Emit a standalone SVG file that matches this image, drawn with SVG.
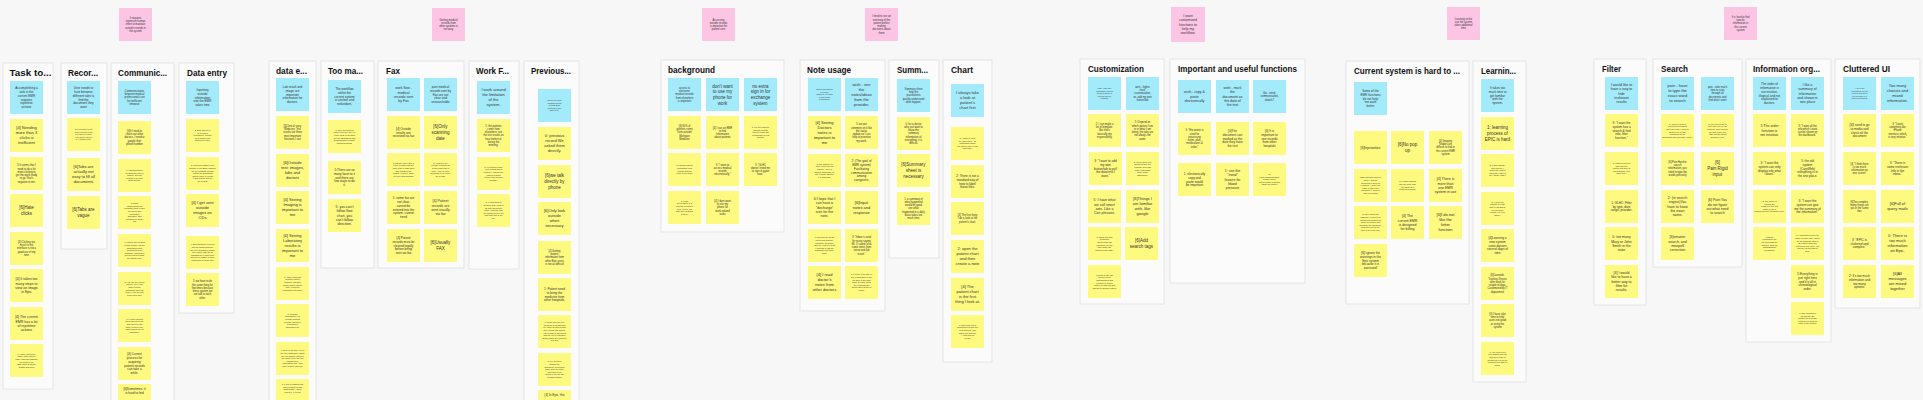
<svg xmlns="http://www.w3.org/2000/svg" width="1923" height="400" viewBox="0 0 1923 400">
<style>
.bg{fill:#f7f7f7}
.fr{fill:#fbfbfb;stroke:#e4e4e4;stroke-width:1}
.ti{font-family:"Liberation Sans",Arial,sans-serif;font-weight:bold;font-size:9.5px;fill:#111}
.y{fill:#fef97f}
.b{fill:#a3ebfa}
.p{fill:#fdc5e4}
.n{font-family:"Liberation Sans",Arial,sans-serif;fill:#333;text-anchor:middle}
.a{font-size:2.1px}.c{font-size:2.6px}.d{font-size:3.1px}.e{font-size:3.5px}.f{font-size:4px}.g{font-size:4.5px}
</style>
<rect class="bg" x="0" y="0" width="1923" height="400"/>

<g id="pink-notes">
<g id="p1"><rect class="p" x="119" y="8" width="33" height="33"/><text class="n c" x="135.5" y="24.5"><tspan dy="-2.15em">It requires</tspan><tspan x="135.5" dy="1.25em">extensive human</tspan><tspan x="135.5" dy="1.25em">effort to maintain</tspan><tspan x="135.5" dy="1.25em">outside records in</tspan><tspan x="135.5" dy="1.25em">the system</tspan></text></g>
<g id="p2"><rect class="p" x="432" y="8" width="33" height="33"/><text class="n c" x="448.5" y="24.5"><tspan dy="-1.525em">Getting medical</tspan><tspan x="448.5" dy="1.25em">records from</tspan><tspan x="448.5" dy="1.25em">other systems is</tspan><tspan x="448.5" dy="1.25em">not easy</tspan></text></g>
<g id="p3"><rect class="p" x="702" y="8" width="33" height="33"/><text class="n c" x="718.5" y="24.5"><tspan dy="-1.525em">Accessing</tspan><tspan x="718.5" dy="1.25em">outside records</tspan><tspan x="718.5" dy="1.25em">is important for</tspan><tspan x="718.5" dy="1.25em">patient care</tspan></text></g>
<g id="p4"><rect class="p" x="865" y="8" width="33" height="33"/><text class="n c" x="881.5" y="24.5"><tspan dy="-2.775em">I need to see an</tspan><tspan x="881.5" dy="1.25em">overview of the</tspan><tspan x="881.5" dy="1.25em">patient before</tspan><tspan x="881.5" dy="1.25em">making</tspan><tspan x="881.5" dy="1.25em">decisions about</tspan><tspan x="881.5" dy="1.25em">them</tspan></text></g>
<g id="p5"><rect class="p" x="1171" y="7" width="34" height="35"/><text class="n e" x="1188" y="24.5"><tspan dy="-2.15em">I want</tspan><tspan x="1188" dy="1.25em">customized</tspan><tspan x="1188" dy="1.25em">functions to</tspan><tspan x="1188" dy="1.25em">help my</tspan><tspan x="1188" dy="1.25em">workflow.</tspan></text></g>
<g id="p6"><rect class="p" x="1447" y="7" width="33" height="33"/><text class="n c" x="1463.5" y="23.5"><tspan dy="-1.525em">Learning to the</tspan><tspan x="1463.5" dy="1.25em">use the system</tspan><tspan x="1463.5" dy="1.25em">takes additional</tspan><tspan x="1463.5" dy="1.25em">time</tspan></text></g>
<g id="p7"><rect class="p" x="1724" y="7" width="33" height="33"/><text class="n c" x="1740.5" y="23.5"><tspan dy="-2.15em">It is hard to find</tspan><tspan x="1740.5" dy="1.25em">specific</tspan><tspan x="1740.5" dy="1.25em">information in</tspan><tspan x="1740.5" dy="1.25em">the current</tspan><tspan x="1740.5" dy="1.25em">system</tspan></text></g>
</g>

<g id="frames">
<rect class="fr" x="3" y="63" width="50" height="326"/><text class="ti" x="9.5" y="76" textLength="42" lengthAdjust="spacingAndGlyphs">Task to...</text>
<rect class="fr" x="61" y="63" width="46" height="186"/><text class="ti" x="68" y="76" textLength="30" lengthAdjust="spacingAndGlyphs">Recor...</text>
<rect class="fr" x="111" y="63" width="63" height="345"/><text class="ti" x="118" y="76" textLength="49" lengthAdjust="spacingAndGlyphs">Communic...</text>
<rect class="fr" x="179" y="63" width="55" height="250"/><text class="ti" x="187" y="76" textLength="40" lengthAdjust="spacingAndGlyphs">Data entry</text>
<rect class="fr" x="269" y="61" width="47" height="345"/><text class="ti" x="276" y="74" textLength="31" lengthAdjust="spacingAndGlyphs">data e...</text>
<rect class="fr" x="321" y="61" width="53" height="207"/><text class="ti" x="328" y="74" textLength="35" lengthAdjust="spacingAndGlyphs">Too ma...</text>
<rect class="fr" x="378" y="61" width="86" height="207"/><text class="ti" x="386" y="74" textLength="14" lengthAdjust="spacingAndGlyphs">Fax</text>
<rect class="fr" x="469" y="61" width="50" height="208"/><text class="ti" x="476" y="74" textLength="33" lengthAdjust="spacingAndGlyphs">Work F...</text>
<rect class="fr" x="524" y="61" width="55" height="345"/><text class="ti" x="531" y="74" textLength="40" lengthAdjust="spacingAndGlyphs">Previous...</text>
<rect class="fr" x="661" y="60" width="123" height="172"/><text class="ti" x="668" y="73" textLength="47" lengthAdjust="spacingAndGlyphs">background</text>
<rect class="fr" x="800" y="60" width="85" height="251"/><text class="ti" x="807" y="73" textLength="44" lengthAdjust="spacingAndGlyphs">Note usage</text>
<rect class="fr" x="889" y="60" width="50" height="198"/><text class="ti" x="897" y="73" textLength="31" lengthAdjust="spacingAndGlyphs">Summ...</text>
<rect class="fr" x="943" y="60" width="49" height="302"/><text class="ti" x="951" y="73" textLength="22" lengthAdjust="spacingAndGlyphs">Chart</text>
<rect class="fr" x="1080" y="59" width="84" height="245"/><text class="ti" x="1088" y="72" textLength="56" lengthAdjust="spacingAndGlyphs">Customization</text>
<rect class="fr" x="1170" y="59" width="135" height="224"/><text class="ti" x="1178" y="72" textLength="119" lengthAdjust="spacingAndGlyphs">Important and useful functions</text>
<rect class="fr" x="1346" y="61" width="123" height="243"/><text class="ti" x="1354" y="74" textLength="106" lengthAdjust="spacingAndGlyphs">Current system is hard to ...</text>
<rect class="fr" x="1473" y="61" width="53" height="321"/><text class="ti" x="1481" y="74" textLength="35" lengthAdjust="spacingAndGlyphs">Learnin...</text>
<rect class="fr" x="1594" y="59" width="52" height="246"/><text class="ti" x="1602" y="72" textLength="19" lengthAdjust="spacingAndGlyphs">Filter</text>
<rect class="fr" x="1653" y="59" width="89" height="208"/><text class="ti" x="1661" y="72" textLength="27" lengthAdjust="spacingAndGlyphs">Search</text>
<rect class="fr" x="1746" y="59" width="85" height="283"/><text class="ti" x="1753" y="72" textLength="67" lengthAdjust="spacingAndGlyphs">Information org...</text>
<rect class="fr" x="1835" y="59" width="85" height="249"/><text class="ti" x="1843" y="72" textLength="47" lengthAdjust="spacingAndGlyphs">Cluttered UI</text>
</g>

<g id="task">
<g id="task-b"><rect class="b" x="10" y="81" width="33" height="33"/><text class="n d" x="26.5" y="97.5"><tspan dy="-2.775em">Accomplishing a</tspan><tspan x="26.5" dy="1.25em">task in the</tspan><tspan x="26.5" dy="1.25em">current EMR</tspan><tspan x="26.5" dy="1.25em">requires</tspan><tspan x="26.5" dy="1.25em">repetitive</tspan><tspan x="26.5" dy="1.25em">actions</tspan></text></g>
<g id="task-1"><rect class="y" x="10" y="119" width="33" height="33"/><text class="n f" x="26.5" y="135.5"><tspan dy="-1.525em">[4] Needing</tspan><tspan x="26.5" dy="1.25em">more than 3</tspan><tspan x="26.5" dy="1.25em">clicks is</tspan><tspan x="26.5" dy="1.25em">inefficient</tspan></text></g>
<g id="task-2"><rect class="y" x="10" y="157" width="33" height="33"/><text class="n c" x="26.5" y="173.5"><tspan dy="-2.775em">5:It seems that I</tspan><tspan x="26.5" dy="1.25em">need to do a lot</tspan><tspan x="26.5" dy="1.25em">more clicking to</tspan><tspan x="26.5" dy="1.25em">get the work ready</tspan><tspan x="26.5" dy="1.25em">to go That's</tspan><tspan x="26.5" dy="1.25em">negative to me.</tspan></text></g>
<g id="task-3"><rect class="y" x="10" y="194" width="33" height="33"/><text class="n g" x="26.5" y="210.5"><tspan dy="-0.275em">[6]Hate</tspan><tspan x="26.5" dy="1.25em">clicks</tspan></text></g>
<g id="task-4"><rect class="y" x="10" y="232" width="33" height="33"/><text class="n c" x="26.5" y="248.5"><tspan dy="-2.15em">[4] Clicking too</tspan><tspan x="26.5" dy="1.25em">much in the</tspan><tspan x="26.5" dy="1.25em">interface is not a</tspan><tspan x="26.5" dy="1.25em">good use of my</tspan><tspan x="26.5" dy="1.25em">time</tspan></text></g>
<g id="task-5"><rect class="y" x="10" y="269" width="33" height="33"/><text class="n e" x="26.5" y="285.5"><tspan dy="-1.525em">[4] It takes too</tspan><tspan x="26.5" dy="1.25em">many steps to</tspan><tspan x="26.5" dy="1.25em">view an image</tspan><tspan x="26.5" dy="1.25em">in Epic</tspan></text></g>
<g id="task-6"><rect class="y" x="10" y="307" width="33" height="33"/><text class="n e" x="26.5" y="323.5"><tspan dy="-1.525em">[4] The current</tspan><tspan x="26.5" dy="1.25em">EMR has a lot</tspan><tspan x="26.5" dy="1.25em">of repetitive</tspan><tspan x="26.5" dy="1.25em">actions</tspan></text></g>
<g id="task-7"><rect class="y" x="10" y="344" width="33" height="33"/><text class="n a" x="26.5" y="360.5"><tspan dy="-2.775em">6: I scan, and scroll,</tspan><tspan x="26.5" dy="1.25em">panel, order patient</tspan><tspan x="26.5" dy="1.25em">page, and click manage</tspan><tspan x="26.5" dy="1.25em">the fields in the</tspan><tspan x="26.5" dy="1.25em">task, clicks &amp; history</tspan><tspan x="26.5" dy="1.25em">graphs and more</tspan></text></g>
</g>

<g id="recor">
<g id="recor-b"><rect class="b" x="67" y="81" width="33" height="33"/><text class="n d" x="83.5" y="97.5"><tspan dy="-2.775em">User needs to</tspan><tspan x="83.5" dy="1.25em">hunt between</tspan><tspan x="83.5" dy="1.25em">different tabs to</tspan><tspan x="83.5" dy="1.25em">find the</tspan><tspan x="83.5" dy="1.25em">document they</tspan><tspan x="83.5" dy="1.25em">want</tspan></text></g>
<g id="recor-1"><rect class="y" x="67" y="118" width="33" height="33"/><text class="n a" x="83.5" y="134.5"><tspan dy="-2.15em">5:If you want to put</tspan><tspan x="83.5" dy="1.25em">some function tests</tspan><tspan x="83.5" dy="1.25em">you have to figure</tspan><tspan x="83.5" dy="1.25em">it out where does it</tspan><tspan x="83.5" dy="1.25em">fit. It wastes time.</tspan></text></g>
<g id="recor-2"><rect class="y" x="67" y="158" width="33" height="33"/><text class="n f" x="83.5" y="174.5"><tspan dy="-1.525em">[6]Tabs are</tspan><tspan x="83.5" dy="1.25em">actually not</tspan><tspan x="83.5" dy="1.25em">easy to fill all</tspan><tspan x="83.5" dy="1.25em">documents</tspan></text></g>
<g id="recor-3"><rect class="y" x="67" y="196" width="33" height="33"/><text class="n g" x="83.5" y="212.5"><tspan dy="-0.275em">[6]Tabs are</tspan><tspan x="83.5" dy="1.25em">vague</tspan></text></g>
</g>

<g id="communic">
<g id="com-b"><rect class="b" x="118" y="81" width="33" height="33"/><text class="n c" x="134.5" y="97.5"><tspan dy="-2.15em">Communications</tspan><tspan x="134.5" dy="1.25em">between medical</tspan><tspan x="134.5" dy="1.25em">professionals can</tspan><tspan x="134.5" dy="1.25em">be inefficient</tspan><tspan x="134.5" dy="1.25em">timewise</tspan></text></g>
<g id="com-1"><rect class="y" x="118" y="121" width="33" height="33"/><text class="n c" x="134.5" y="137.5"><tspan dy="-2.15em">[5]If I need to</tspan><tspan x="134.5" dy="1.25em">reach out other</tspan><tspan x="134.5" dy="1.25em">doctors, I need to</tspan><tspan x="134.5" dy="1.25em">google their</tspan><tspan x="134.5" dy="1.25em">phone number</tspan></text></g>
<g id="com-2"><rect class="y" x="118" y="159" width="33" height="33"/><text class="n a" x="134.5" y="175.5"><tspan dy="-2.15em">1: communication</tspan><tspan x="134.5" dy="1.25em">between the staff is</tspan><tspan x="134.5" dy="1.25em">difficult, but has</tspan><tspan x="134.5" dy="1.25em">nothing to do with</tspan><tspan x="134.5" dy="1.25em">EMR system.</tspan></text></g>
<g id="com-3"><rect class="y" x="118" y="196" width="33" height="33"/><text class="n a" x="134.5" y="212.5"><tspan dy="-4.025em">5: Daily</tspan><tspan x="134.5" dy="1.25em">requirements the</tspan><tspan x="134.5" dy="1.25em">message come in and</tspan><tspan x="134.5" dy="1.25em">we act on that</tspan><tspan x="134.5" dy="1.25em">information</tspan><tspan x="134.5" dy="1.25em">document, and</tspan><tspan x="134.5" dy="1.25em">comment on what I</tspan><tspan x="134.5" dy="1.25em">did</tspan></text></g>
<g id="com-4"><rect class="y" x="118" y="234" width="33" height="33"/><text class="n a" x="134.5" y="250.5"><tspan dy="-3.4em">4: Having only medical</tspan><tspan x="134.5" dy="1.25em">record person, not the</tspan><tspan x="134.5" dy="1.25em">physician's office</tspan><tspan x="134.5" dy="1.25em">sometimes is not</tspan><tspan x="134.5" dy="1.25em">available, sometimes</tspan><tspan x="134.5" dy="1.25em">the preferred is using</tspan><tspan x="134.5" dy="1.25em">the natural form.</tspan></text></g>
<g id="com-5"><rect class="y" x="118" y="272" width="33" height="33"/><text class="n a" x="134.5" y="288.5"><tspan dy="-2.775em">5: I do like the letter's</tspan><tspan x="134.5" dy="1.25em">feature. So if I just</tspan><tspan x="134.5" dy="1.25em">want to send</tspan><tspan x="134.5" dy="1.25em">somebody their lab</tspan><tspan x="134.5" dy="1.25em">result, I can go right</tspan><tspan x="134.5" dy="1.25em">to the letter part.</tspan></text></g>
<g id="com-6"><rect class="y" x="118" y="309" width="33" height="33"/><text class="n a" x="134.5" y="325.5"><tspan dy="-2.775em">3: "If other doctors</tspan><tspan x="134.5" dy="1.25em">send patients to me,</tspan><tspan x="134.5" dy="1.25em">they don't tell me</tspan><tspan x="134.5" dy="1.25em">what I need to see,</tspan><tspan x="134.5" dy="1.25em">which makes me so</tspan><tspan x="134.5" dy="1.25em">confused."</tspan></text></g>
<g id="com-7"><rect class="y" x="118" y="347" width="33" height="33"/><text class="n d" x="134.5" y="363.5"><tspan dy="-2.775em">[4] Current</tspan><tspan x="134.5" dy="1.25em">process for</tspan><tspan x="134.5" dy="1.25em">acquiring</tspan><tspan x="134.5" dy="1.25em">patient records</tspan><tspan x="134.5" dy="1.25em">can take a</tspan><tspan x="134.5" dy="1.25em">while.</tspan></text></g>
<g id="com-8"><rect class="y" x="118" y="384" width="33" height="33"/><text class="n d" x="134.5" y="390"><tspan>[6]Sometimes, it</tspan><tspan x="134.5" dy="1.25em">is hard to find</tspan></text></g>
</g>

<g id="dataentry">
<g id="de-b"><rect class="b" x="186" y="81" width="33" height="33"/><text class="n d" x="202.5" y="97.5"><tspan dy="-2.15em">Inputting</tspan><tspan x="202.5" dy="1.25em">outside</tspan><tspan x="202.5" dy="1.25em">information</tspan><tspan x="202.5" dy="1.25em">into the EMR</tspan><tspan x="202.5" dy="1.25em">takes time</tspan></text></g>
<g id="de-1"><rect class="y" x="186" y="119" width="33" height="33"/><text class="n a" x="202.5" y="135.5"><tspan dy="-2.15em">2: Epic collects a</tspan><tspan x="202.5" dy="1.25em">lot of useful</tspan><tspan x="202.5" dy="1.25em">information, though</tspan><tspan x="202.5" dy="1.25em">all of which I am</tspan><tspan x="202.5" dy="1.25em">required to input.</tspan></text></g>
<g id="de-2"><rect class="y" x="186" y="157" width="33" height="33"/><text class="n a" x="202.5" y="173.5"><tspan dy="-3.4em">5: "Previous: Blank is not</tspan><tspan x="202.5" dy="1.25em">actually in our EMR, hospital</tspan><tspan x="202.5" dy="1.25em">we get scanned records</tspan><tspan x="202.5" dy="1.25em">- which are searchable</tspan><tspan x="202.5" dy="1.25em">and we have to reload</tspan><tspan x="202.5" dy="1.25em">it and find the info for</tspan><tspan x="202.5" dy="1.25em">the record"</tspan></text></g>
<g id="de-3"><rect class="y" x="186" y="194" width="33" height="33"/><text class="n f" x="202.5" y="210.5"><tspan dy="-1.525em">[4] I get sent</tspan><tspan x="202.5" dy="1.25em">outside</tspan><tspan x="202.5" dy="1.25em">images on</tspan><tspan x="202.5" dy="1.25em">CDs</tspan></text></g>
<g id="de-4"><rect class="y" x="186" y="236" width="33" height="33"/><text class="n a" x="202.5" y="252.5"><tspan dy="-3.4em">4: Everything we received</tspan><tspan x="202.5" dy="1.25em">into the charts and they</tspan><tspan x="202.5" dy="1.25em">are not necessarily viewed</tspan><tspan x="202.5" dy="1.25em">the results, labs are all</tspan><tspan x="202.5" dy="1.25em">handwritten or other stuff</tspan><tspan x="202.5" dy="1.25em">that one is usable to other</tspan><tspan x="202.5" dy="1.25em">institutions in future time</tspan></text></g>
<g id="de-5"><rect class="y" x="186" y="273" width="33" height="33"/><text class="n c" x="202.5" y="289.5"><tspan dy="-2.775em">5: we have to do</tspan><tspan x="202.5" dy="1.25em">the same thing for</tspan><tspan x="202.5" dy="1.25em">few times because</tspan><tspan x="202.5" dy="1.25em">these system are</tspan><tspan x="202.5" dy="1.25em">not talk to each</tspan><tspan x="202.5" dy="1.25em">other.</tspan></text></g>
</g>

<g id="datae">
<g id="dx-b"><rect class="b" x="276" y="78" width="33" height="33"/><text class="n d" x="292.5" y="94.5"><tspan dy="-2.15em">Lab result and</tspan><tspan x="292.5" dy="1.25em">image are</tspan><tspan x="292.5" dy="1.25em">important</tspan><tspan x="292.5" dy="1.25em">information for</tspan><tspan x="292.5" dy="1.25em">doctors.</tspan></text></g>
<g id="dx-1"><rect class="y" x="276" y="116" width="33" height="33"/><text class="n c" x="292.5" y="132.5"><tspan dy="-2.15em">[5]Clinical story,</tspan><tspan x="292.5" dy="1.25em">Medicine, Test</tspan><tspan x="292.5" dy="1.25em">results are three</tspan><tspan x="292.5" dy="1.25em">most important</tspan><tspan x="292.5" dy="1.25em">functions I use</tspan></text></g>
<g id="dx-2"><rect class="y" x="276" y="154" width="33" height="33"/><text class="n f" x="292.5" y="170.5"><tspan dy="-1.525em">[6]Outside</tspan><tspan x="292.5" dy="1.25em">test: images,</tspan><tspan x="292.5" dy="1.25em">labs and</tspan><tspan x="292.5" dy="1.25em">doctors</tspan></text></g>
<g id="dx-3"><rect class="y" x="276" y="191" width="33" height="33"/><text class="n f" x="292.5" y="207.5"><tspan dy="-1.525em">[4] Seeing</tspan><tspan x="292.5" dy="1.25em">Imaging is</tspan><tspan x="292.5" dy="1.25em">important to</tspan><tspan x="292.5" dy="1.25em">me</tspan></text></g>
<g id="dx-4"><rect class="y" x="276" y="229" width="33" height="33"/><text class="n f" x="292.5" y="245.5"><tspan dy="-2.15em">[4] Seeing</tspan><tspan x="292.5" dy="1.25em">Laboratory</tspan><tspan x="292.5" dy="1.25em">results is</tspan><tspan x="292.5" dy="1.25em">important to</tspan><tspan x="292.5" dy="1.25em">me</tspan></text></g>
<g id="dx-5"><rect class="y" x="276" y="267" width="33" height="33"/><text class="n a" x="292.5" y="283.5"><tspan dy="-2.775em">3: "Most important</tspan><tspan x="292.5" dy="1.25em">function: patient</tspan><tspan x="292.5" dy="1.25em">charging, lab data,</tspan><tspan x="292.5" dy="1.25em">image result, patient</tspan><tspan x="292.5" dy="1.25em">note, retrieving</tspan><tspan x="292.5" dy="1.25em">information internally"</tspan></text></g>
<g id="dx-6"><rect class="y" x="276" y="304" width="33" height="33"/><text class="n a" x="292.5" y="320.5"><tspan dy="-2.775em">5: (Primary</tspan><tspan x="292.5" dy="1.25em">information): It's</tspan><tspan x="292.5" dy="1.25em">primary medical</tspan><tspan x="292.5" dy="1.25em">records, lab result,</tspan><tspan x="292.5" dy="1.25em">prescription,</tspan><tspan x="292.5" dy="1.25em">medication list.</tspan></text></g>
<g id="dx-7"><rect class="y" x="276" y="342" width="33" height="33"/><text class="n a" x="292.5" y="358.5"><tspan dy="-3.4em">1: most of the time, to put</tspan><tspan x="292.5" dy="1.25em">the into catalogues, which</tspan><tspan x="292.5" dy="1.25em">are the images, and see</tspan><tspan x="292.5" dy="1.25em">the report, but if the test</tspan><tspan x="292.5" dy="1.25em">coming from</tspan><tspan x="292.5" dy="1.25em">somewhere else, they</tspan><tspan x="292.5" dy="1.25em">have a more carefully</tspan></text></g>
<g id="dx-8"><rect class="y" x="276" y="379" width="33" height="33"/><text class="n a" x="292.5" y="385"><tspan>1: If one is coming from</tspan><tspan x="292.5" dy="1.25em">other hospital in with</tspan><tspan x="292.5" dy="1.25em">good quality, I won't</tspan><tspan x="292.5" dy="1.25em">repeat it. If it's not</tspan></text></g>
</g>

<g id="tooma">
<g id="tm-b"><rect class="b" x="328" y="80" width="33" height="33"/><text class="n d" x="344.5" y="96.5"><tspan dy="-2.15em">The workflow</tspan><tspan x="344.5" dy="1.25em">within the</tspan><tspan x="344.5" dy="1.25em">current system</tspan><tspan x="344.5" dy="1.25em">is unclear and</tspan><tspan x="344.5" dy="1.25em">redundant.</tspan></text></g>
<g id="tm-1"><rect class="y" x="328" y="120" width="33" height="33"/><text class="n a" x="344.5" y="136.5"><tspan dy="-2.775em">3: there are different</tspan><tspan x="344.5" dy="1.25em">ways to do this, but it is</tspan><tspan x="344.5" dy="1.25em">never clear to me what</tspan><tspan x="344.5" dy="1.25em">are the advantages and</tspan><tspan x="344.5" dy="1.25em">disadvantages of those</tspan><tspan x="344.5" dy="1.25em">various methods.</tspan></text></g>
<g id="tm-2"><rect class="y" x="328" y="161" width="33" height="33"/><text class="n d" x="344.5" y="177.5"><tspan dy="-2.15em">5:There are so</tspan><tspan x="344.5" dy="1.25em">many facet to it</tspan><tspan x="344.5" dy="1.25em">and there are</tspan><tspan x="344.5" dy="1.25em">few ways to do</tspan><tspan x="344.5" dy="1.25em">it.</tspan></text></g>
<g id="tm-3"><rect class="y" x="328" y="199" width="33" height="33"/><text class="n e" x="344.5" y="215.5"><tspan dy="-2.15em">5: you can't</tspan><tspan x="344.5" dy="1.25em">follow flow</tspan><tspan x="344.5" dy="1.25em">chart, you</tspan><tspan x="344.5" dy="1.25em">can't follow</tspan><tspan x="344.5" dy="1.25em">direction.</tspan></text></g>
</g>

<g id="fax">
<g id="fx-b1"><rect class="b" x="387" y="78" width="33" height="33"/><text class="n e" x="403.5" y="94.5"><tspan dy="-1.525em">work flow -</tspan><tspan x="403.5" dy="1.25em">medical</tspan><tspan x="403.5" dy="1.25em">records sent</tspan><tspan x="403.5" dy="1.25em">by Fax</tspan></text></g>
<g id="fx-b2"><rect class="b" x="424" y="78" width="33" height="33"/><text class="n d" x="440.5" y="94.5"><tspan dy="-2.15em">pain medical</tspan><tspan x="440.5" dy="1.25em">records sent by</tspan><tspan x="440.5" dy="1.25em">Fax are not</tspan><tspan x="440.5" dy="1.25em">clear and</tspan><tspan x="440.5" dy="1.25em">unsearchable</tspan></text></g>
<g id="fx-1"><rect class="y" x="387" y="116" width="33" height="33"/><text class="n d" x="403.5" y="132.5"><tspan dy="-0.9em">[4] Outside</tspan><tspan x="403.5" dy="1.25em">results are</tspan><tspan x="403.5" dy="1.25em">received via fax</tspan></text></g>
<g id="fx-2"><rect class="y" x="424" y="116" width="33" height="33"/><text class="n g" x="440.5" y="132.5"><tspan dy="-0.9em">[6]Only</tspan><tspan x="440.5" dy="1.25em">scanning</tspan><tspan x="440.5" dy="1.25em">date</tspan></text></g>
<g id="fx-3"><rect class="y" x="387" y="153" width="33" height="33"/><text class="n a" x="403.5" y="169.5"><tspan dy="-2.775em">2: Patient often carry a</tspan><tspan x="403.5" dy="1.25em">piece of paper and we</tspan><tspan x="403.5" dy="1.25em">have staff to scan them</tspan><tspan x="403.5" dy="1.25em">and upload to the</tspan><tspan x="403.5" dy="1.25em">media. However, these</tspan><tspan x="403.5" dy="1.25em">files are unsearchable</tspan></text></g>
<g id="fx-4"><rect class="y" x="424" y="153" width="33" height="33"/><text class="n a" x="440.5" y="169.5"><tspan dy="-2.775em">5: (Ways to get</tspan><tspan x="440.5" dy="1.25em">outside records)Fax</tspan><tspan x="440.5" dy="1.25em">is goes and logs in</tspan><tspan x="440.5" dy="1.25em">here. And I've then</tspan><tspan x="440.5" dy="1.25em">send that to us either</tspan><tspan x="440.5" dy="1.25em">fax or mail.</tspan></text></g>
<g id="fx-5"><rect class="y" x="387" y="191" width="33" height="33"/><text class="n d" x="403.5" y="207.5"><tspan dy="-2.775em">1: some fax are</tspan><tspan x="403.5" dy="1.25em">not clear,</tspan><tspan x="403.5" dy="1.25em">cannot be</tspan><tspan x="403.5" dy="1.25em">entered into the</tspan><tspan x="403.5" dy="1.25em">system, cannot</tspan><tspan x="403.5" dy="1.25em">trend</tspan></text></g>
<g id="fx-6"><rect class="y" x="424" y="191" width="33" height="33"/><text class="n e" x="440.5" y="207.5"><tspan dy="-1.525em">[4] Patient</tspan><tspan x="440.5" dy="1.25em">records are</tspan><tspan x="440.5" dy="1.25em">sent usually</tspan><tspan x="440.5" dy="1.25em">via fax</tspan></text></g>
<g id="fx-7"><rect class="y" x="387" y="229" width="33" height="33"/><text class="n d" x="403.5" y="245.5"><tspan dy="-2.15em">[4] Patient</tspan><tspan x="403.5" dy="1.25em">records must be</tspan><tspan x="403.5" dy="1.25em">cleared legally</tspan><tspan x="403.5" dy="1.25em">before being</tspan><tspan x="403.5" dy="1.25em">sent via fax</tspan></text></g>
<g id="fx-8"><rect class="y" x="424" y="229" width="33" height="33"/><text class="n g" x="440.5" y="245.5"><tspan dy="-0.275em">[6]Usually</tspan><tspan x="440.5" dy="1.25em">FAX</tspan></text></g>
</g>

<g id="workf">
<g id="wf-b"><rect class="b" x="477" y="81" width="33" height="33"/><text class="n f" x="493.5" y="97.5"><tspan dy="-1.525em">I work around</tspan><tspan x="493.5" dy="1.25em">the limitation</tspan><tspan x="493.5" dy="1.25em">of the</tspan><tspan x="493.5" dy="1.25em">system.</tspan></text></g>
<g id="wf-1"><rect class="y" x="477" y="119" width="33" height="33"/><text class="n c" x="493.5" y="135.5"><tspan dy="-3.4em">1: the patients</tspan><tspan x="493.5" dy="1.25em">come from</tspan><tspan x="493.5" dy="1.25em">elsewhere, see</tspan><tspan x="493.5" dy="1.25em">the test results an</tspan><tspan x="493.5" dy="1.25em">hour before or</tspan><tspan x="493.5" dy="1.25em">during the</tspan><tspan x="493.5" dy="1.25em">meeting.</tspan></text></g>
<g id="wf-2"><rect class="y" x="477" y="157" width="33" height="33"/><text class="n a" x="493.5" y="173.5"><tspan dy="-2.775em">3: "If a patient come</tspan><tspan x="493.5" dy="1.25em">from outside EPIC</tspan><tspan x="493.5" dy="1.25em">system, I request the</tspan><tspan x="493.5" dy="1.25em">patient to bring</tspan><tspan x="493.5" dy="1.25em">his/her own medical</tspan><tspan x="493.5" dy="1.25em">records."</tspan></text></g>
<g id="wf-3"><rect class="y" x="477" y="194" width="33" height="33"/><text class="n a" x="493.5" y="210.5"><tspan dy="-3.4em">5: If something is</tspan><tspan x="493.5" dy="1.25em">pending and I need to</tspan><tspan x="493.5" dy="1.25em">do with this patient</tspan><tspan x="493.5" dy="1.25em">today, I actually take</tspan><tspan x="493.5" dy="1.25em">the comments off, like</tspan><tspan x="493.5" dy="1.25em">from that flow to the</tspan><tspan x="493.5" dy="1.25em">top.</tspan></text></g>
</g>

<g id="previous">
<g id="pv-b"><rect class="b" x="538" y="89" width="33" height="33"/><text class="n a" x="554.5" y="105.5"><tspan dy="-2.15em">To get previous</tspan><tspan x="554.5" dy="1.25em">medical record</tspan><tspan x="554.5" dy="1.25em">outside Epic</tspan><tspan x="554.5" dy="1.25em">consumes time</tspan><tspan x="554.5" dy="1.25em">and effort.</tspan></text></g>
<g id="pv-1"><rect class="y" x="538" y="127" width="33" height="33"/><text class="n f" x="554.5" y="143.5"><tspan dy="-1.525em">0: previous</tspan><tspan x="554.5" dy="1.25em">record We</tspan><tspan x="554.5" dy="1.25em">asked them</tspan><tspan x="554.5" dy="1.25em">directly.</tspan></text></g>
<g id="pv-2"><rect class="y" x="538" y="165" width="33" height="33"/><text class="n g" x="554.5" y="181.5"><tspan dy="-0.9em">[6]we talk</tspan><tspan x="554.5" dy="1.25em">directly by</tspan><tspan x="554.5" dy="1.25em">phone</tspan></text></g>
<g id="pv-3"><rect class="y" x="538" y="202" width="33" height="33"/><text class="n f" x="554.5" y="218.5"><tspan dy="-1.525em">[6]Only look</tspan><tspan x="554.5" dy="1.25em">outside</tspan><tspan x="554.5" dy="1.25em">when</tspan><tspan x="554.5" dy="1.25em">necessary</tspan></text></g>
<g id="pv-4"><rect class="y" x="538" y="241" width="33" height="33"/><text class="n c" x="554.5" y="257.5"><tspan dy="-2.15em">[4] Getting</tspan><tspan x="554.5" dy="1.25em">patient</tspan><tspan x="554.5" dy="1.25em">information from</tspan><tspan x="554.5" dy="1.25em">other Epic users</tspan><tspan x="554.5" dy="1.25em">is not as difficult</tspan></text></g>
<g id="pv-5"><rect class="y" x="538" y="278" width="33" height="33"/><text class="n d" x="554.5" y="294.5"><tspan dy="-1.525em">1: Patient need</tspan><tspan x="554.5" dy="1.25em">to bring the</tspan><tspan x="554.5" dy="1.25em">medicine from</tspan><tspan x="554.5" dy="1.25em">other hospitals.</tspan></text></g>
<g id="pv-6"><rect class="y" x="538" y="315" width="33" height="33"/><text class="n a" x="554.5" y="331.5"><tspan dy="-4.025em">5: Work flow: the foot</tspan><tspan x="554.5" dy="1.25em">would go in for and ask</tspan><tspan x="554.5" dy="1.25em">so I have an idea of why</tspan><tspan x="554.5" dy="1.25em">am I seeing this patient.</tspan><tspan x="554.5" dy="1.25em">And in order to document</tspan><tspan x="554.5" dy="1.25em">that will I go to schedule</tspan><tspan x="554.5" dy="1.25em">doctor make an encounter</tspan><tspan x="554.5" dy="1.25em">that day</tspan></text></g>
<g id="pv-7"><rect class="y" x="538" y="353" width="33" height="33"/><text class="n a" x="554.5" y="369.5"><tspan dy="-3.4em">1: see a patient</tspan><tspan x="554.5" dy="1.25em">without the</tspan><tspan x="554.5" dy="1.25em">document, send them</tspan><tspan x="554.5" dy="1.25em">back, with a release</tspan><tspan x="554.5" dy="1.25em">may take a few</tspan><tspan x="554.5" dy="1.25em">weeks to get the CD</tspan><tspan x="554.5" dy="1.25em">is always things.</tspan></text></g>
<g id="pv-8"><rect class="y" x="538" y="390" width="33" height="33"/><text class="n d" x="554.5" y="396"><tspan>[4] In Epic, the</tspan></text></g>
</g>

<g id="background">
<g id="bk-b1"><rect class="b" x="668" y="78" width="33" height="33"/><text class="n c" x="684.5" y="94.5"><tspan dy="-2.15em">access to</tspan><tspan x="684.5" dy="1.25em">electronic</tspan><tspan x="684.5" dy="1.25em">medical records</tspan><tspan x="684.5" dy="1.25em">from elsewhere</tspan><tspan x="684.5" dy="1.25em">is important</tspan></text></g>
<g id="bk-b2"><rect class="b" x="706" y="78" width="33" height="33"/><text class="n g" x="722.5" y="94.5"><tspan dy="-1.525em">don't want</tspan><tspan x="722.5" dy="1.25em">to use my</tspan><tspan x="722.5" dy="1.25em">phone for</tspan><tspan x="722.5" dy="1.25em">work</tspan></text></g>
<g id="bk-b3"><rect class="b" x="744" y="78" width="33" height="33"/><text class="n g" x="760.5" y="94.5"><tspan dy="-1.525em">no extra</tspan><tspan x="760.5" dy="1.25em">sign in for</tspan><tspan x="760.5" dy="1.25em">exchange</tspan><tspan x="760.5" dy="1.25em">system</tspan></text></g>
<g id="bk-1"><rect class="y" x="668" y="116" width="33" height="33"/><text class="n c" x="684.5" y="132.5"><tspan dy="-2.15em">[4] 60% of</tspan><tspan x="684.5" dy="1.25em">patients come</tspan><tspan x="684.5" dy="1.25em">from outside</tspan><tspan x="684.5" dy="1.25em">Michigan</tspan><tspan x="684.5" dy="1.25em">Medicine</tspan></text></g>
<g id="bk-2"><rect class="y" x="706" y="116" width="33" height="33"/><text class="n c" x="722.5" y="132.5"><tspan dy="-1.525em">[4] I use an EMR</tspan><tspan x="722.5" dy="1.25em">to find</tspan><tspan x="722.5" dy="1.25em">information</tspan><tspan x="722.5" dy="1.25em">about patients</tspan></text></g>
<g id="bk-3"><rect class="y" x="744" y="116" width="33" height="33"/><text class="n a" x="760.5" y="132.5"><tspan dy="-2.15em">1: see the patients'</tspan><tspan x="760.5" dy="1.25em">medical records</tspan><tspan x="760.5" dy="1.25em">from 30 years ago</tspan><tspan x="760.5" dy="1.25em">is important for old</tspan><tspan x="760.5" dy="1.25em">doctors</tspan></text></g>
<g id="bk-4"><rect class="y" x="668" y="153" width="33" height="33"/><text class="n a" x="684.5" y="169.5"><tspan dy="-1.525em">[4] Getting patient</tspan><tspan x="684.5" dy="1.25em">information from</tspan><tspan x="684.5" dy="1.25em">outside doctors</tspan><tspan x="684.5" dy="1.25em">goes in one place</tspan></text></g>
<g id="bk-5"><rect class="y" x="706" y="153" width="33" height="33"/><text class="n c" x="722.5" y="169.5"><tspan dy="-1.525em">3: "I want to</tspan><tspan x="722.5" dy="1.25em">access medical</tspan><tspan x="722.5" dy="1.25em">records</tspan><tspan x="722.5" dy="1.25em">electronically."</tspan></text></g>
<g id="bk-6"><rect class="y" x="744" y="153" width="33" height="33"/><text class="n c" x="760.5" y="169.5"><tspan dy="-1.525em">3: "GLHC</tspan><tspan x="760.5" dy="1.25em">doesn't need me</tspan><tspan x="760.5" dy="1.25em">to sign in again</tspan><tspan x="760.5" dy="1.25em">now."</tspan></text></g>
<g id="bk-7"><rect class="y" x="668" y="191" width="33" height="33"/><text class="n a" x="684.5" y="207.5"><tspan dy="-2.775em">3: "Care</tspan><tspan x="684.5" dy="1.25em">Everywhere is a</tspan><tspan x="684.5" dy="1.25em">function to retrieve</tspan><tspan x="684.5" dy="1.25em">note, letters, lab</tspan><tspan x="684.5" dy="1.25em">data only for EPIC</tspan><tspan x="684.5" dy="1.25em">system"</tspan></text></g>
<g id="bk-8"><rect class="y" x="706" y="191" width="33" height="33"/><text class="n c" x="722.5" y="207.5"><tspan dy="-2.15em">[4] I dont want</tspan><tspan x="722.5" dy="1.25em">to use my</tspan><tspan x="722.5" dy="1.25em">phone for</tspan><tspan x="722.5" dy="1.25em">work-related</tspan><tspan x="722.5" dy="1.25em">tasks</tspan></text></g>
</g>

<g id="noteusage">
<g id="nu-b1"><rect class="b" x="808" y="78" width="33" height="33"/><text class="n a" x="824.5" y="94.5"><tspan dy="-2.15em">Notes information</tspan><tspan x="824.5" dy="1.25em">is crucial,</tspan><tspan x="824.5" dy="1.25em">however, it's hard</tspan><tspan x="824.5" dy="1.25em">to find target</tspan><tspan x="824.5" dy="1.25em">information.</tspan></text></g>
<g id="nu-b2"><rect class="b" x="845" y="78" width="33" height="33"/><text class="n f" x="861.5" y="94.5"><tspan dy="-2.15em">wish - see</tspan><tspan x="861.5" dy="1.25em">the</tspan><tspan x="861.5" dy="1.25em">notes/ideas</tspan><tspan x="861.5" dy="1.25em">from the</tspan><tspan x="861.5" dy="1.25em">provider.</tspan></text></g>
<g id="nu-1"><rect class="y" x="808" y="116" width="33" height="33"/><text class="n f" x="824.5" y="132.5"><tspan dy="-2.15em">[4] Seeing</tspan><tspan x="824.5" dy="1.25em">Doctors</tspan><tspan x="824.5" dy="1.25em">notes is</tspan><tspan x="824.5" dy="1.25em">important to</tspan><tspan x="824.5" dy="1.25em">me</tspan></text></g>
<g id="nu-2"><rect class="y" x="845" y="116" width="33" height="33"/><text class="n c" x="861.5" y="132.5"><tspan dy="-2.775em">5: we put</tspan><tspan x="861.5" dy="1.25em">comment on it like</tspan><tspan x="861.5" dy="1.25em">the status</tspan><tspan x="861.5" dy="1.25em">update,so I can</tspan><tspan x="861.5" dy="1.25em">help to prioritize</tspan><tspan x="861.5" dy="1.25em">my work.</tspan></text></g>
<g id="nu-3"><rect class="y" x="808" y="154" width="33" height="33"/><text class="n a" x="824.5" y="170.5"><tspan dy="-2.775em">2: The majority of</tspan><tspan x="824.5" dy="1.25em">other notes are not</tspan><tspan x="824.5" dy="1.25em">flagged. And it is</tspan><tspan x="824.5" dy="1.25em">almost impossible for</tspan><tspan x="824.5" dy="1.25em">me to know whether</tspan><tspan x="824.5" dy="1.25em">it is important.</tspan></text></g>
<g id="nu-4"><rect class="y" x="845" y="154" width="33" height="33"/><text class="n d" x="861.5" y="170.5"><tspan dy="-2.775em">2: (The goal of</tspan><tspan x="861.5" dy="1.25em">EMR system)</tspan><tspan x="861.5" dy="1.25em">Facilitating</tspan><tspan x="861.5" dy="1.25em">communication</tspan><tspan x="861.5" dy="1.25em">among</tspan><tspan x="861.5" dy="1.25em">caregivers.</tspan></text></g>
<g id="nu-5"><rect class="y" x="808" y="191" width="33" height="33"/><text class="n e" x="824.5" y="207.5"><tspan dy="-2.15em">0:I hope that I</tspan><tspan x="824.5" dy="1.25em">can have a</tspan><tspan x="824.5" dy="1.25em">"discharge"</tspan><tspan x="824.5" dy="1.25em">icon for the</tspan><tspan x="824.5" dy="1.25em">note.</tspan></text></g>
<g id="nu-6"><rect class="y" x="845" y="191" width="33" height="33"/><text class="n f" x="861.5" y="207.5"><tspan dy="-0.9em">[6]Input</tspan><tspan x="861.5" dy="1.25em">notes and</tspan><tspan x="861.5" dy="1.25em">response</tspan></text></g>
<g id="nu-7"><rect class="y" x="808" y="229" width="33" height="33"/><text class="n a" x="824.5" y="245.5"><tspan dy="-3.4em">0: there will be all the</tspan><tspan x="824.5" dy="1.25em">notes from doctors,</tspan><tspan x="824.5" dy="1.25em">residents, clinicians,</tspan><tspan x="824.5" dy="1.25em">and etc. I have to read</tspan><tspan x="824.5" dy="1.25em">it through to find the</tspan><tspan x="824.5" dy="1.25em">discharge note that I</tspan><tspan x="824.5" dy="1.25em">want.</tspan></text></g>
<g id="nu-8"><rect class="y" x="845" y="229" width="33" height="33"/><text class="n c" x="861.5" y="245.5"><tspan dy="-2.775em">3: "Inbox is used</tspan><tspan x="861.5" dy="1.25em">for nurse saying</tspan><tspan x="861.5" dy="1.25em">Mr. X called, also</tspan><tspan x="861.5" dy="1.25em">some notes from</tspan><tspan x="861.5" dy="1.25em">nurse and lab</tspan><tspan x="861.5" dy="1.25em">result."</tspan></text></g>
<g id="nu-9"><rect class="y" x="808" y="266" width="33" height="33"/><text class="n f" x="824.5" y="282.5"><tspan dy="-1.525em">[4] I read</tspan><tspan x="824.5" dy="1.25em">doctor's</tspan><tspan x="824.5" dy="1.25em">notes from</tspan><tspan x="824.5" dy="1.25em">other doctors</tspan></text></g>
<g id="nu-10"><rect class="y" x="845" y="266" width="33" height="33"/><text class="n a" x="861.5" y="282.5"><tspan dy="-3.4em">1: it's nice to be able to</tspan><tspan x="861.5" dy="1.25em">see a document to see</tspan><tspan x="861.5" dy="1.25em">the date of the case</tspan><tspan x="861.5" dy="1.25em">when the data notes</tspan><tspan x="861.5" dy="1.25em">the extraordinary</tspan><tspan x="861.5" dy="1.25em">doctor have written a</tspan><tspan x="861.5" dy="1.25em">useful.</tspan></text></g>
</g>

<g id="summ">
<g id="sm-b"><rect class="b" x="897" y="79" width="33" height="33"/><text class="n c" x="913.5" y="95.5"><tspan dy="-2.15em">Summary sheet</tspan><tspan x="913.5" dy="1.25em">help the</tspan><tspan x="913.5" dy="1.25em">practitioners</tspan><tspan x="913.5" dy="1.25em">quickly understand</tspan><tspan x="913.5" dy="1.25em">what happen.</tspan></text></g>
<g id="sm-1"><rect class="y" x="897" y="117" width="33" height="33"/><text class="n c" x="913.5" y="133.5"><tspan dy="-3.4em">0: for a doctor</tspan><tspan x="913.5" dy="1.25em">who just want to</tspan><tspan x="913.5" dy="1.25em">know the</tspan><tspan x="913.5" dy="1.25em">summary</tspan><tspan x="913.5" dy="1.25em">information of</tspan><tspan x="913.5" dy="1.25em">everything, it is</tspan><tspan x="913.5" dy="1.25em">difficult.</tspan></text></g>
<g id="sm-2"><rect class="y" x="897" y="154" width="33" height="33"/><text class="n g" x="913.5" y="170.5"><tspan dy="-0.9em">[6]Summary</tspan><tspan x="913.5" dy="1.25em">sheet is</tspan><tspan x="913.5" dy="1.25em">necessary</tspan></text></g>
<g id="sm-3"><rect class="y" x="897" y="192" width="33" height="33"/><text class="n c" x="913.5" y="208.5"><tspan dy="-3.4em">1: a summary of</tspan><tspan x="913.5" dy="1.25em">what happened</tspan><tspan x="913.5" dy="1.25em">would be good</tspan><tspan x="913.5" dy="1.25em">see what</tspan><tspan x="913.5" dy="1.25em">happened in a daily</tspan><tspan x="913.5" dy="1.25em">basis takes too</tspan><tspan x="913.5" dy="1.25em">much time.</tspan></text></g>
</g>

<g id="chart">
<g id="ch-b"><rect class="b" x="951" y="84" width="33" height="33"/><text class="n f" x="967.5" y="100.5"><tspan dy="-1.525em">I always take</tspan><tspan x="967.5" dy="1.25em">a look at</tspan><tspan x="967.5" dy="1.25em">patient's</tspan><tspan x="967.5" dy="1.25em">chart first</tspan></text></g>
<g id="ch-1"><rect class="y" x="951" y="127" width="33" height="33"/><text class="n a" x="967.5" y="143.5"><tspan dy="-2.15em">3: "Chart is used</tspan><tspan x="967.5" dy="1.25em">for case notes - all</tspan><tspan x="967.5" dy="1.25em">information about</tspan><tspan x="967.5" dy="1.25em">the patient care in UM</tspan><tspan x="967.5" dy="1.25em">hospitals."</tspan></text></g>
<g id="ch-2"><rect class="y" x="951" y="165" width="33" height="33"/><text class="n d" x="967.5" y="181.5"><tspan dy="-1.525em">2: There is not a</tspan><tspan x="967.5" dy="1.25em">standard way of</tspan><tspan x="967.5" dy="1.25em">how to label</tspan><tspan x="967.5" dy="1.25em">these files.</tspan></text></g>
<g id="ch-3"><rect class="y" x="951" y="202" width="33" height="33"/><text class="n c" x="967.5" y="218.5"><tspan dy="-0.9em">[4] The first thing</tspan><tspan x="967.5" dy="1.25em">I do is look at the</tspan><tspan x="967.5" dy="1.25em">patient's chart.</tspan></text></g>
<g id="ch-4"><rect class="y" x="951" y="240" width="33" height="33"/><text class="n f" x="967.5" y="256.5"><tspan dy="-1.525em">2: open the</tspan><tspan x="967.5" dy="1.25em">patient chart</tspan><tspan x="967.5" dy="1.25em">and then</tspan><tspan x="967.5" dy="1.25em">create a note</tspan></text></g>
<g id="ch-5"><rect class="y" x="951" y="278" width="33" height="33"/><text class="n f" x="967.5" y="294.5"><tspan dy="-1.525em">[4] The</tspan><tspan x="967.5" dy="1.25em">patient chart</tspan><tspan x="967.5" dy="1.25em">is the first</tspan><tspan x="967.5" dy="1.25em">thing I look at.</tspan></text></g>
<g id="ch-6"><rect class="y" x="951" y="315" width="33" height="33"/><text class="n a" x="967.5" y="331.5"><tspan dy="-2.775em">0: work flow: Go to</tspan><tspan x="967.5" dy="1.25em">department review first</tspan><tspan x="967.5" dy="1.25em">your patients, and</tspan><tspan x="967.5" dy="1.25em">add to My patients</tspan><tspan x="967.5" dy="1.25em">-&gt; look into the</tspan><tspan x="967.5" dy="1.25em">record.</tspan></text></g>
</g>

<g id="customization">
<g id="cu-b1"><rect class="b" x="1088" y="77" width="33" height="33"/><text class="n a" x="1104.5" y="93.5"><tspan dy="-2.15em">pain - can only</tspan><tspan x="1104.5" dy="1.25em">customize several</tspan><tspan x="1104.5" dy="1.25em">things in EPIC or</tspan><tspan x="1104.5" dy="1.25em">borrow other's</tspan><tspan x="1104.5" dy="1.25em">template</tspan></text></g>
<g id="cu-b2"><rect class="b" x="1126" y="77" width="33" height="33"/><text class="n c" x="1142.5" y="93.5"><tspan dy="-2.15em">wish - higher</tspan><tspan x="1142.5" dy="1.25em">level</tspan><tspan x="1142.5" dy="1.25em">customization,</tspan><tspan x="1142.5" dy="1.25em">ex. add my own</tspan><tspan x="1142.5" dy="1.25em">button/tab</tspan></text></g>
<g id="cu-1"><rect class="y" x="1088" y="114" width="33" height="33"/><text class="n c" x="1104.5" y="130.5"><tspan dy="-2.15em">2: I can make a</tspan><tspan x="1104.5" dy="1.25em">lot of template.</tspan><tspan x="1104.5" dy="1.25em">But that's</tspan><tspan x="1104.5" dy="1.25em">basically my</tspan><tspan x="1104.5" dy="1.25em">responsibility.</tspan></text></g>
<g id="cu-2"><rect class="y" x="1126" y="114" width="33" height="33"/><text class="n c" x="1142.5" y="130.5"><tspan dy="-2.775em">5: Depend on</tspan><tspan x="1142.5" dy="1.25em">which patient I am</tspan><tspan x="1142.5" dy="1.25em">in or what I am</tspan><tspan x="1142.5" dy="1.25em">doing, the tabs are</tspan><tspan x="1142.5" dy="1.25em">not always the</tspan><tspan x="1142.5" dy="1.25em">same.</tspan></text></g>
<g id="cu-3"><rect class="y" x="1089" y="152" width="33" height="33"/><text class="n d" x="1105.5" y="168.5"><tspan dy="-2.15em">3: "I want to add</tspan><tspan x="1105.5" dy="1.25em">my own</tspan><tspan x="1105.5" dy="1.25em">button/tab to pull</tspan><tspan x="1105.5" dy="1.25em">the data/info I</tspan><tspan x="1105.5" dy="1.25em">want."</tspan></text></g>
<g id="cu-4"><rect class="y" x="1126" y="152" width="33" height="33"/><text class="n a" x="1142.5" y="168.5"><tspan dy="-2.775em">2: I have done a lot</tspan><tspan x="1142.5" dy="1.25em">borrow people the</tspan><tspan x="1142.5" dy="1.25em">template they had</tspan><tspan x="1142.5" dy="1.25em">made, and made</tspan><tspan x="1142.5" dy="1.25em">some minor</tspan><tspan x="1142.5" dy="1.25em">adjustment.</tspan></text></g>
<g id="cu-5"><rect class="y" x="1088" y="190" width="33" height="33"/><text class="n e" x="1104.5" y="206.5"><tspan dy="-1.525em">5: I have what</tspan><tspan x="1104.5" dy="1.25em">we call smart</tspan><tspan x="1104.5" dy="1.25em">sets. Like a</tspan><tspan x="1104.5" dy="1.25em">Con phrases.</tspan></text></g>
<g id="cu-6"><rect class="y" x="1126" y="190" width="33" height="33"/><text class="n f" x="1142.5" y="206.5"><tspan dy="-1.525em">[6]Things I</tspan><tspan x="1142.5" dy="1.25em">am familiar</tspan><tspan x="1142.5" dy="1.25em">with, like</tspan><tspan x="1142.5" dy="1.25em">google</tspan></text></g>
<g id="cu-7"><rect class="y" x="1088" y="227" width="33" height="33"/><text class="n a" x="1104.5" y="243.5"><tspan dy="-2.775em">3: "EPIC can only</tspan><tspan x="1104.5" dy="1.25em">customize</tspan><tspan x="1104.5" dy="1.25em">layout,color can</tspan><tspan x="1104.5" dy="1.25em">rearrange the tab,</tspan><tspan x="1104.5" dy="1.25em">hide some tab,</tspan><tspan x="1104.5" dy="1.25em">cannot create tabs."</tspan></text></g>
<g id="cu-8"><rect class="y" x="1125" y="227" width="33" height="33"/><text class="n g" x="1141.5" y="243.5"><tspan dy="-0.275em">[6]Add</tspan><tspan x="1141.5" dy="1.25em">search tags</tspan></text></g>
<g id="cu-9"><rect class="y" x="1088" y="265" width="33" height="33"/><text class="n a" x="1104.5" y="281.5"><tspan dy="-2.775em">[4]Wish is that can</tspan><tspan x="1104.5" dy="1.25em">recover some</tspan><tspan x="1104.5" dy="1.25em">customization and</tspan><tspan x="1104.5" dy="1.25em">function to search</tspan><tspan x="1104.5" dy="1.25em">results for patients and</tspan><tspan x="1104.5" dy="1.25em">doctors to specific patient</tspan></text></g>
</g>

<g id="important">
<g id="im-b1"><rect class="b" x="1178" y="80" width="33" height="33"/><text class="n e" x="1194.5" y="96.5"><tspan dy="-0.9em">wish - copy &amp;</tspan><tspan x="1194.5" dy="1.25em">paste</tspan><tspan x="1194.5" dy="1.25em">electronically</tspan></text></g>
<g id="im-b2"><rect class="b" x="1216" y="80" width="33" height="33"/><text class="n e" x="1232.5" y="96.5"><tspan dy="-2.15em">wish - mark</tspan><tspan x="1232.5" dy="1.25em">the</tspan><tspan x="1232.5" dy="1.25em">document as</tspan><tspan x="1232.5" dy="1.25em">the date of</tspan><tspan x="1232.5" dy="1.25em">the test</tspan></text></g>
<g id="im-b3"><rect class="b" x="1253" y="80" width="33" height="33"/><text class="n c" x="1269.5" y="96.5"><tspan dy="-0.9em">like - trend,</tspan><tspan x="1269.5" dy="1.25em">communication,</tspan><tspan x="1269.5" dy="1.25em">details?</tspan></text></g>
<g id="im-1"><rect class="y" x="1178" y="122" width="33" height="33"/><text class="n c" x="1194.5" y="138.5"><tspan dy="-2.775em">3: "Encounter is</tspan><tspan x="1194.5" dy="1.25em">used for</tspan><tspan x="1194.5" dy="1.25em">processing</tspan><tspan x="1194.5" dy="1.25em">notes, plan,</tspan><tspan x="1194.5" dy="1.25em">medications &amp;</tspan><tspan x="1194.5" dy="1.25em">order."</tspan></text></g>
<g id="im-2"><rect class="y" x="1216" y="122" width="33" height="33"/><text class="n d" x="1232.5" y="138.5"><tspan dy="-2.15em">[4]The</tspan><tspan x="1232.5" dy="1.25em">document can</tspan><tspan x="1232.5" dy="1.25em">marked as the</tspan><tspan x="1232.5" dy="1.25em">date they have</tspan><tspan x="1232.5" dy="1.25em">the test</tspan></text></g>
<g id="im-3"><rect class="y" x="1253" y="122" width="33" height="33"/><text class="n d" x="1269.5" y="138.5"><tspan dy="-2.15em">[4] It is</tspan><tspan x="1269.5" dy="1.25em">important to</tspan><tspan x="1269.5" dy="1.25em">see records</tspan><tspan x="1269.5" dy="1.25em">from other</tspan><tspan x="1269.5" dy="1.25em">hospitals</tspan></text></g>
<g id="im-4"><rect class="y" x="1178" y="163" width="33" height="33"/><text class="n d" x="1194.5" y="179.5"><tspan dy="-1.525em">1: electronically</tspan><tspan x="1194.5" dy="1.25em">copy and</tspan><tspan x="1194.5" dy="1.25em">paste would</tspan><tspan x="1194.5" dy="1.25em">be important</tspan></text></g>
<g id="im-5"><rect class="y" x="1216" y="163" width="33" height="33"/><text class="n e" x="1232.5" y="179.5"><tspan dy="-2.15em">1: use the</tspan><tspan x="1232.5" dy="1.25em">"trend"</tspan><tspan x="1232.5" dy="1.25em">feature for</tspan><tspan x="1232.5" dy="1.25em">blood</tspan><tspan x="1232.5" dy="1.25em">pressure</tspan></text></g>
<g id="im-6"><rect class="y" x="1253" y="163" width="33" height="33"/><text class="n a" x="1269.5" y="179.5"><tspan dy="-2.15em">[6]</tspan><tspan x="1269.5" dy="1.25em">Likes:Communication,</tspan><tspan x="1269.5" dy="1.25em">Result lenses,</tspan><tspan x="1269.5" dy="1.25em">Interpretation of details</tspan><tspan x="1269.5" dy="1.25em">about the patient</tspan></text></g>
</g>

<g id="current">
<g id="cs-b"><rect class="b" x="1354" y="82" width="33" height="33"/><text class="n d" x="1370.5" y="98.5"><tspan dy="-2.15em">Some of the</tspan><tspan x="1370.5" dy="1.25em">EMR functions</tspan><tspan x="1370.5" dy="1.25em">do not help</tspan><tspan x="1370.5" dy="1.25em">me work</tspan><tspan x="1370.5" dy="1.25em">better</tspan></text></g>
<g id="cs-1"><rect class="y" x="1354" y="131" width="33" height="33"/><text class="n e" x="1370.5" y="147.5"><tspan dy="0.35em">[6]Inprioritize</tspan></text></g>
<g id="cs-2"><rect class="y" x="1391" y="131" width="33" height="33"/><text class="n g" x="1407.5" y="147.5"><tspan dy="-0.275em">[6]No pop</tspan><tspan x="1407.5" dy="1.25em">up</tspan></text></g>
<g id="cs-3"><rect class="y" x="1429" y="131" width="33" height="33"/><text class="n c" x="1445.5" y="147.5"><tspan dy="-2.15em">[4] Imaging</tspan><tspan x="1445.5" dy="1.25em">Studies are</tspan><tspan x="1445.5" dy="1.25em">difficult to find in</tspan><tspan x="1445.5" dy="1.25em">the current EMR</tspan><tspan x="1445.5" dy="1.25em">system</tspan></text></g>
<g id="cs-4"><rect class="y" x="1354" y="169" width="33" height="33"/><text class="n a" x="1370.5" y="185.5"><tspan dy="-3.4em">[6]No marking function.</tspan><tspan x="1370.5" dy="1.25em">Once I find the</tspan><tspan x="1370.5" dy="1.25em">document it goes on</tspan><tspan x="1370.5" dy="1.25em">to midlife. I forget the</tspan><tspan x="1370.5" dy="1.25em">name or tag of the</tspan><tspan x="1370.5" dy="1.25em">document, I need to</tspan><tspan x="1370.5" dy="1.25em">start over again</tspan></text></g>
<g id="cs-5"><rect class="y" x="1391" y="169" width="33" height="33"/><text class="n a" x="1407.5" y="185.5"><tspan dy="-1.525em">[4] Health systems</tspan><tspan x="1407.5" dy="1.25em">will use more than</tspan><tspan x="1407.5" dy="1.25em">one EMR as a</tspan><tspan x="1407.5" dy="1.25em">business decision</tspan></text></g>
<g id="cs-6"><rect class="y" x="1429" y="169" width="33" height="33"/><text class="n e" x="1445.5" y="185.5"><tspan dy="-1.525em">[4] There is</tspan><tspan x="1445.5" dy="1.25em">more than</tspan><tspan x="1445.5" dy="1.25em">one EMR</tspan><tspan x="1445.5" dy="1.25em">system in use</tspan></text></g>
<g id="cs-7"><rect class="y" x="1354" y="206" width="33" height="33"/><text class="n a" x="1370.5" y="222.5"><tspan dy="-3.4em">5: They switch the</tspan><tspan x="1370.5" dy="1.25em">workflow. It used to be</tspan><tspan x="1370.5" dy="1.25em">consistently behind the</tspan><tspan x="1370.5" dy="1.25em">scene so people now</tspan><tspan x="1370.5" dy="1.25em">deal with the insurance.</tspan><tspan x="1370.5" dy="1.25em">Now they put all the</tspan><tspan x="1370.5" dy="1.25em">stuff to the front end.</tspan></text></g>
<g id="cs-8"><rect class="y" x="1391" y="206" width="33" height="33"/><text class="n e" x="1407.5" y="222.5"><tspan dy="-1.525em">[4] The</tspan><tspan x="1407.5" dy="1.25em">current EMR</tspan><tspan x="1407.5" dy="1.25em">is designed</tspan><tspan x="1407.5" dy="1.25em">for billing</tspan></text></g>
<g id="cs-9"><rect class="y" x="1429" y="206" width="33" height="33"/><text class="n f" x="1445.5" y="222.5"><tspan dy="-1.525em">[6]I do not</tspan><tspan x="1445.5" dy="1.25em">like the</tspan><tspan x="1445.5" dy="1.25em">letter</tspan><tspan x="1445.5" dy="1.25em">function</tspan></text></g>
<g id="cs-10"><rect class="y" x="1354" y="244" width="33" height="33"/><text class="n d" x="1370.5" y="260.5"><tspan dy="-2.15em">[6]I ignore the</tspan><tspan x="1370.5" dy="1.25em">warnings in the</tspan><tspan x="1370.5" dy="1.25em">Epic system</tspan><tspan x="1370.5" dy="1.25em">because it is</tspan><tspan x="1370.5" dy="1.25em">overused!</tspan></text></g>
</g>

<g id="learning">
<g id="le-b"><rect class="b" x="1481" y="79" width="33" height="33"/><text class="n d" x="1497.5" y="95.5"><tspan dy="-2.15em">It takes too</tspan><tspan x="1497.5" dy="1.25em">much time to</tspan><tspan x="1497.5" dy="1.25em">get familiar</tspan><tspan x="1497.5" dy="1.25em">with the</tspan><tspan x="1497.5" dy="1.25em">system.</tspan></text></g>
<g id="le-1"><rect class="y" x="1481" y="117" width="33" height="33"/><text class="n g" x="1497.5" y="133.5"><tspan dy="-0.9em">1: learning</tspan><tspan x="1497.5" dy="1.25em">process of</tspan><tspan x="1497.5" dy="1.25em">EPIC is hard</tspan></text></g>
<g id="le-2"><rect class="y" x="1481" y="154" width="33" height="33"/><text class="n a" x="1497.5" y="170.5"><tspan dy="-2.15em">2: it was though I</tspan><tspan x="1497.5" dy="1.25em">had click on, I</tspan><tspan x="1497.5" dy="1.25em">frequently cannot</tspan><tspan x="1497.5" dy="1.25em">find what I want to</tspan><tspan x="1497.5" dy="1.25em">do/ I know I had it</tspan></text></g>
<g id="le-3"><rect class="y" x="1481" y="192" width="33" height="33"/><text class="n a" x="1497.5" y="208.5"><tspan dy="-2.775em">3: "I took four</tspan><tspan x="1497.5" dy="1.25em">courses to learn</tspan><tspan x="1497.5" dy="1.25em">how to use EPIC.</tspan><tspan x="1497.5" dy="1.25em">It's the worst</tspan><tspan x="1497.5" dy="1.25em">course I've ever</tspan><tspan x="1497.5" dy="1.25em">taken."</tspan></text></g>
<g id="le-4"><rect class="y" x="1481" y="229" width="33" height="33"/><text class="n d" x="1497.5" y="245.5"><tspan dy="-2.15em">[4]Learning a</tspan><tspan x="1497.5" dy="1.25em">new system</tspan><tspan x="1497.5" dy="1.25em">costs doctors</tspan><tspan x="1497.5" dy="1.25em">several days of</tspan><tspan x="1497.5" dy="1.25em">time</tspan></text></g>
<g id="le-5"><rect class="y" x="1481" y="267" width="33" height="33"/><text class="n c" x="1497.5" y="283.5"><tspan dy="-2.775em">[6]Careweb.</tspan><tspan x="1497.5" dy="1.25em">Training 3 hours</tspan><tspan x="1497.5" dy="1.25em">after work for</tspan><tspan x="1497.5" dy="1.25em">couple of days.</tspan><tspan x="1497.5" dy="1.25em">Customized by IT</tspan><tspan x="1497.5" dy="1.25em">department</tspan></text></g>
<g id="le-6"><rect class="y" x="1481" y="304" width="33" height="33"/><text class="n c" x="1497.5" y="320.5"><tspan dy="-2.15em">[4] I have take</tspan><tspan x="1497.5" dy="1.25em">time to help</tspan><tspan x="1497.5" dy="1.25em">users not good</tspan><tspan x="1497.5" dy="1.25em">at using the</tspan><tspan x="1497.5" dy="1.25em">system</tspan></text></g>
<g id="le-7"><rect class="y" x="1481" y="342" width="33" height="33"/><text class="n a" x="1497.5" y="358.5"><tspan dy="-2.775em">0: You need to be</tspan><tspan x="1497.5" dy="1.25em">very familiar with the</tspan><tspan x="1497.5" dy="1.25em">system in order to</tspan><tspan x="1497.5" dy="1.25em">quickly pull out all the</tspan><tspan x="1497.5" dy="1.25em">numbers you want to</tspan><tspan x="1497.5" dy="1.25em">know.</tspan></text></g>
</g>

<g id="filter">
<g id="fi-b"><rect class="b" x="1605" y="77" width="33" height="33"/><text class="n e" x="1621.5" y="93.5"><tspan dy="-2.15em">I would like to</tspan><tspan x="1621.5" dy="1.25em">have a way to</tspan><tspan x="1621.5" dy="1.25em">hide</tspan><tspan x="1621.5" dy="1.25em">irrelevant</tspan><tspan x="1621.5" dy="1.25em">results</tspan></text></g>
<g id="fi-1"><rect class="y" x="1605" y="114" width="33" height="33"/><text class="n d" x="1621.5" y="130.5"><tspan dy="-2.15em">3: "I want the</tspan><tspan x="1621.5" dy="1.25em">system has a</tspan><tspan x="1621.5" dy="1.25em">search &amp; find</tspan><tspan x="1621.5" dy="1.25em">info, filter</tspan><tspan x="1621.5" dy="1.25em">function."</tspan></text></g>
<g id="fi-2"><rect class="y" x="1605" y="152" width="33" height="33"/><text class="n a" x="1621.5" y="168.5"><tspan dy="-2.15em">3: "Labs is used for</tspan><tspan x="1621.5" dy="1.25em">save lab test</tspan><tspan x="1621.5" dy="1.25em">results that done in</tspan><tspan x="1621.5" dy="1.25em">UM hospitals, filter</tspan><tspan x="1621.5" dy="1.25em">about test."</tspan></text></g>
<g id="fi-3"><rect class="y" x="1605" y="190" width="33" height="33"/><text class="n d" x="1621.5" y="206.5"><tspan dy="-0.9em">1: GLHC: Filter</tspan><tspan x="1621.5" dy="1.25em">by type, date</tspan><tspan x="1621.5" dy="1.25em">range, provider.</tspan></text></g>
<g id="fi-4"><rect class="y" x="1605" y="227" width="33" height="33"/><text class="n e" x="1621.5" y="243.5"><tspan dy="-1.525em">0: too many</tspan><tspan x="1621.5" dy="1.25em">Mary or John</tspan><tspan x="1621.5" dy="1.25em">Smith in the</tspan><tspan x="1621.5" dy="1.25em">state</tspan></text></g>
<g id="fi-5"><rect class="y" x="1605" y="265" width="33" height="33"/><text class="n e" x="1621.5" y="281.5"><tspan dy="-2.15em">[4] I would</tspan><tspan x="1621.5" dy="1.25em">like to have a</tspan><tspan x="1621.5" dy="1.25em">better way to</tspan><tspan x="1621.5" dy="1.25em">filter for</tspan><tspan x="1621.5" dy="1.25em">results.</tspan></text></g>
</g>

<g id="search">
<g id="se-b1"><rect class="b" x="1661" y="77" width="33" height="33"/><text class="n f" x="1677.5" y="93.5"><tspan dy="-1.525em">pain - have</tspan><tspan x="1677.5" dy="1.25em">to type the</tspan><tspan x="1677.5" dy="1.25em">exact word</tspan><tspan x="1677.5" dy="1.25em">to search</tspan></text></g>
<g id="se-b2"><rect class="b" x="1701" y="77" width="33" height="33"/><text class="n c" x="1717.5" y="93.5"><tspan dy="-2.15em">pain - take much</tspan><tspan x="1717.5" dy="1.25em">time to scan</tspan><tspan x="1717.5" dy="1.25em">through all</tspan><tspan x="1717.5" dy="1.25em">documents and</tspan><tspan x="1717.5" dy="1.25em">find what I want</tspan></text></g>
<g id="se-1"><rect class="y" x="1661" y="114" width="33" height="33"/><text class="n a" x="1677.5" y="130.5"><tspan dy="-2.775em">3: "There a a lot of</tspan><tspan x="1677.5" dy="1.25em">documents including</tspan><tspan x="1677.5" dy="1.25em">last result only, I need to</tspan><tspan x="1677.5" dy="1.25em">spend a lot of time</tspan><tspan x="1677.5" dy="1.25em">searching for the</tspan><tspan x="1677.5" dy="1.25em">documents and find what I want."</tspan></text></g>
<g id="se-2"><rect class="y" x="1701" y="114" width="33" height="33"/><text class="n a" x="1717.5" y="130.5"><tspan dy="-2.775em">2:You prevent me to</tspan><tspan x="1717.5" dy="1.25em">find. Not a cell or the</tspan><tspan x="1717.5" dy="1.25em">contents. They present</tspan><tspan x="1717.5" dy="1.25em">me with typos. The</tspan><tspan x="1717.5" dy="1.25em">"type doesn't mean</tspan><tspan x="1717.5" dy="1.25em">anything to me.</tspan></text></g>
<g id="se-3"><rect class="y" x="1661" y="152" width="33" height="33"/><text class="n c" x="1677.5" y="168.5"><tspan dy="-2.15em">[6] Pain:Hard to</tspan><tspan x="1677.5" dy="1.25em">search</tspan><tspan x="1677.5" dy="1.25em">information, you</tspan><tspan x="1677.5" dy="1.25em">need to type the</tspan><tspan x="1677.5" dy="1.25em">words precisely</tspan></text></g>
<g id="se-4"><rect class="y" x="1701" y="152" width="33" height="33"/><text class="n g" x="1717.5" y="168.5"><tspan dy="-0.9em">[6]</tspan><tspan x="1717.5" dy="1.25em">Pain:Rigid</tspan><tspan x="1717.5" dy="1.25em">input</tspan></text></g>
<g id="se-5"><rect class="y" x="1661" y="190" width="33" height="33"/><text class="n e" x="1677.5" y="206.5"><tspan dy="-2.15em">2: (in search</tspan><tspan x="1677.5" dy="1.25em">engine)You</tspan><tspan x="1677.5" dy="1.25em">have to know</tspan><tspan x="1677.5" dy="1.25em">the exact</tspan><tspan x="1677.5" dy="1.25em">name.</tspan></text></g>
<g id="se-6"><rect class="y" x="1701" y="190" width="33" height="33"/><text class="n e" x="1717.5" y="206.5"><tspan dy="-1.525em">[6] Pain:You</tspan><tspan x="1717.5" dy="1.25em">do not figure</tspan><tspan x="1717.5" dy="1.25em">out what need</tspan><tspan x="1717.5" dy="1.25em">to search</tspan></text></g>
<g id="se-7"><rect class="y" x="1661" y="227" width="33" height="33"/><text class="n e" x="1677.5" y="243.5"><tspan dy="-1.525em">[6]smarter</tspan><tspan x="1677.5" dy="1.25em">search, and</tspan><tspan x="1677.5" dy="1.25em">misspell</tspan><tspan x="1677.5" dy="1.25em">correction</tspan></text></g>
</g>

<g id="information">
<g id="io-b1"><rect class="b" x="1753" y="77" width="33" height="33"/><text class="n d" x="1769.5" y="93.5"><tspan dy="-2.775em">The order of</tspan><tspan x="1769.5" dy="1.25em">information is</tspan><tspan x="1769.5" dy="1.25em">not intuitive,</tspan><tspan x="1769.5" dy="1.25em">illogical and not</tspan><tspan x="1769.5" dy="1.25em">explained to</tspan><tspan x="1769.5" dy="1.25em">doctors.</tspan></text></g>
<g id="io-b2"><rect class="b" x="1791" y="77" width="33" height="33"/><text class="n e" x="1807.5" y="93.5"><tspan dy="-2.15em">I like a</tspan><tspan x="1807.5" dy="1.25em">summary of</tspan><tspan x="1807.5" dy="1.25em">information</tspan><tspan x="1807.5" dy="1.25em">and shown in</tspan><tspan x="1807.5" dy="1.25em">one place</tspan></text></g>
<g id="io-1"><rect class="y" x="1753" y="114" width="33" height="33"/><text class="n e" x="1769.5" y="130.5"><tspan dy="-0.9em">5:The order</tspan><tspan x="1769.5" dy="1.25em">function is</tspan><tspan x="1769.5" dy="1.25em">not intuitive.</tspan></text></g>
<g id="io-2"><rect class="y" x="1791" y="114" width="33" height="33"/><text class="n c" x="1807.5" y="130.5"><tspan dy="-1.525em">3: "I want all the</tspan><tspan x="1807.5" dy="1.25em">info which I want</tspan><tspan x="1807.5" dy="1.25em">can be shown on</tspan><tspan x="1807.5" dy="1.25em">the dashboard."</tspan></text></g>
<g id="io-3"><rect class="y" x="1753" y="152" width="33" height="33"/><text class="n d" x="1769.5" y="168.5"><tspan dy="-1.525em">3: "I want the</tspan><tspan x="1769.5" dy="1.25em">system can only</tspan><tspan x="1769.5" dy="1.25em">display info what</tspan><tspan x="1769.5" dy="1.25em">I want."</tspan></text></g>
<g id="io-4"><rect class="y" x="1791" y="152" width="33" height="33"/><text class="n d" x="1807.5" y="168.5"><tspan dy="-2.15em">5: the old</tspan><tspan x="1807.5" dy="1.25em">system</tspan><tspan x="1807.5" dy="1.25em">(CareWeb)</tspan><tspan x="1807.5" dy="1.25em">everything is in</tspan><tspan x="1807.5" dy="1.25em">the one place.</tspan></text></g>
<g id="io-5"><rect class="y" x="1753" y="190" width="33" height="33"/><text class="n a" x="1769.5" y="206.5"><tspan dy="-2.15em">2: The layout is</tspan><tspan x="1769.5" dy="1.25em">illogical the</tspan><tspan x="1769.5" dy="1.25em">number of test that</tspan><tspan x="1769.5" dy="1.25em">made to me is</tspan><tspan x="1769.5" dy="1.25em">illogical and not explained to me.</tspan></text></g>
<g id="io-6"><rect class="y" x="1791" y="190" width="33" height="33"/><text class="n d" x="1807.5" y="206.5"><tspan dy="-1.525em">3: "I want the</tspan><tspan x="1807.5" dy="1.25em">system can give</tspan><tspan x="1807.5" dy="1.25em">me the summary of</tspan><tspan x="1807.5" dy="1.25em">the information."</tspan></text></g>
<g id="io-7"><rect class="y" x="1753" y="227" width="33" height="33"/><text class="n a" x="1769.5" y="243.5"><tspan dy="-2.775em">[4]Some</tspan><tspan x="1769.5" dy="1.25em">information are</tspan><tspan x="1769.5" dy="1.25em">not necessary for</tspan><tspan x="1769.5" dy="1.25em">doctors. Such as</tspan><tspan x="1769.5" dy="1.25em">hospitalization</tspan><tspan x="1769.5" dy="1.25em">information.</tspan></text></g>
<g id="io-8"><rect class="y" x="1791" y="227" width="33" height="33"/><text class="n a" x="1807.5" y="243.5"><tspan dy="-3.4em">0: I sometimes prefer the</tspan><tspan x="1807.5" dy="1.25em">paper version (Chr), where</tspan><tspan x="1807.5" dy="1.25em">all the summary data of</tspan><tspan x="1807.5" dy="1.25em">the patient basic are</tspan><tspan x="1807.5" dy="1.25em">printed on one page. You</tspan><tspan x="1807.5" dy="1.25em">can see all the data at</tspan><tspan x="1807.5" dy="1.25em">once.</tspan></text></g>
<g id="io-9"><rect class="y" x="1791" y="265" width="33" height="33"/><text class="n d" x="1807.5" y="281.5"><tspan dy="-2.15em">5:Everything is</tspan><tspan x="1807.5" dy="1.25em">just right here</tspan><tspan x="1807.5" dy="1.25em">and it's all in</tspan><tspan x="1807.5" dy="1.25em">chronological</tspan><tspan x="1807.5" dy="1.25em">order.</tspan></text></g>
<g id="io-10"><rect class="y" x="1791" y="302" width="33" height="33"/><text class="n a" x="1807.5" y="318.5"><tspan dy="-2.15em">0: The information</tspan><tspan x="1807.5" dy="1.25em">the doctors are</tspan><tspan x="1807.5" dy="1.25em">looking for is usually</tspan><tspan x="1807.5" dy="1.25em">scattered in different</tspan><tspan x="1807.5" dy="1.25em">place of the system.</tspan></text></g>
</g>

<g id="cluttered">
<g id="cl-b1"><rect class="b" x="1843" y="77" width="33" height="33"/><text class="n a" x="1859.5" y="93.5"><tspan dy="-2.15em">A lot of the</tspan><tspan x="1859.5" dy="1.25em">information on the</tspan><tspan x="1859.5" dy="1.25em">current system is</tspan><tspan x="1859.5" dy="1.25em">not relevant to a</tspan><tspan x="1859.5" dy="1.25em">doctor's workflow</tspan></text></g>
<g id="cl-b2"><rect class="b" x="1881" y="77" width="33" height="33"/><text class="n f" x="1897.5" y="93.5"><tspan dy="-1.525em">Too many</tspan><tspan x="1897.5" dy="1.25em">choices and</tspan><tspan x="1897.5" dy="1.25em">mixed</tspan><tspan x="1897.5" dy="1.25em">information.</tspan></text></g>
<g id="cl-1"><rect class="y" x="1843" y="114" width="33" height="33"/><text class="n d" x="1859.5" y="130.5"><tspan dy="-1.525em">[6]I need to go</tspan><tspan x="1859.5" dy="1.25em">to media and</tspan><tspan x="1859.5" dy="1.25em">check all the</tspan><tspan x="1859.5" dy="1.25em">document</tspan></text></g>
<g id="cl-2"><rect class="y" x="1881" y="114" width="33" height="33"/><text class="n c" x="1897.5" y="130.5"><tspan dy="-2.15em">3: "I want</tspan><tspan x="1897.5" dy="1.25em">something like</tspan><tspan x="1897.5" dy="1.25em">iPhone</tspan><tspan x="1897.5" dy="1.25em">interface, which</tspan><tspan x="1897.5" dy="1.25em">is very intuitive."</tspan></text></g>
<g id="cl-3"><rect class="y" x="1843" y="152" width="33" height="33"/><text class="n c" x="1859.5" y="168.5"><tspan dy="-1.525em">[4] "I think there</tspan><tspan x="1859.5" dy="1.25em">is too much</tspan><tspan x="1859.5" dy="1.25em">information on</tspan><tspan x="1859.5" dy="1.25em">one screen"</tspan></text></g>
<g id="cl-4"><rect class="y" x="1881" y="152" width="33" height="33"/><text class="n d" x="1897.5" y="168.5"><tspan dy="-1.525em">3: "There is</tspan><tspan x="1897.5" dy="1.25em">some irrelevant</tspan><tspan x="1897.5" dy="1.25em">info in the</tspan><tspan x="1897.5" dy="1.25em">inbox."</tspan></text></g>
<g id="cl-5"><rect class="y" x="1843" y="190" width="33" height="33"/><text class="n c" x="1859.5" y="206.5"><tspan dy="-1.525em">[6]Too complex,</tspan><tspan x="1859.5" dy="1.25em">many things are</tspan><tspan x="1859.5" dy="1.25em">put in the same</tspan><tspan x="1859.5" dy="1.25em">box</tspan></text></g>
<g id="cl-6"><rect class="y" x="1881" y="190" width="33" height="33"/><text class="n f" x="1897.5" y="206.5"><tspan dy="-0.275em">[6]Full of</tspan><tspan x="1897.5" dy="1.25em">query mails</tspan></text></g>
<g id="cl-7"><rect class="y" x="1843" y="227" width="33" height="33"/><text class="n d" x="1859.5" y="243.5"><tspan dy="-0.9em">3: "EPIC is</tspan><tspan x="1859.5" dy="1.25em">cluttered and</tspan><tspan x="1859.5" dy="1.25em">complex."</tspan></text></g>
<g id="cl-8"><rect class="y" x="1881" y="227" width="33" height="33"/><text class="n f" x="1897.5" y="243.5"><tspan dy="-1.525em">0: There is</tspan><tspan x="1897.5" dy="1.25em">too much</tspan><tspan x="1897.5" dy="1.25em">information</tspan><tspan x="1897.5" dy="1.25em">on Epic.</tspan></text></g>
<g id="cl-9"><rect class="y" x="1843" y="265" width="33" height="33"/><text class="n d" x="1859.5" y="281.5"><tspan dy="-1.525em">2: It's too much</tspan><tspan x="1859.5" dy="1.25em">information and</tspan><tspan x="1859.5" dy="1.25em">too many</tspan><tspan x="1859.5" dy="1.25em">options.</tspan></text></g>
<g id="cl-10"><rect class="y" x="1881" y="265" width="33" height="33"/><text class="n f" x="1897.5" y="281.5"><tspan dy="-1.525em">[6]All</tspan><tspan x="1897.5" dy="1.25em">messages</tspan><tspan x="1897.5" dy="1.25em">are mixed</tspan><tspan x="1897.5" dy="1.25em">together</tspan></text></g>
</g>
</svg>
